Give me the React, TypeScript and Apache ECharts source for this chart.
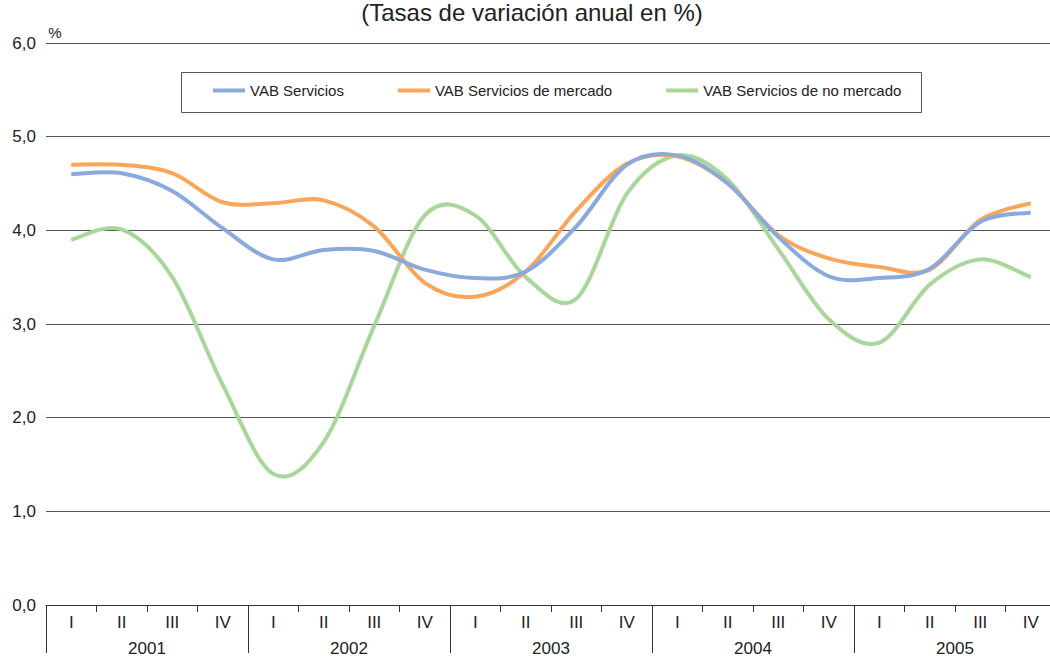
import React, { useEffect, useRef } from "react";
import * as echarts from "echarts";

const quarters = ["I", "II", "III", "IV", "I", "II", "III", "IV", "I", "II", "III", "IV", "I", "II", "III", "IV", "I", "II", "III", "IV"];
const years = ["2001", "2002", "2003", "2004", "2005"];
const yTicks = [0, 1, 2, 3, 4, 5, 6];

const vabServicios = [4.6, 4.61, 4.42, 4.02, 3.69, 3.79, 3.78, 3.58, 3.49, 3.56, 4.04, 4.7, 4.8, 4.5, 3.93, 3.51, 3.49, 3.59, 4.09, 4.19];
const vabMercado = [4.7, 4.7, 4.61, 4.3, 4.29, 4.32, 4.04, 3.44, 3.29, 3.56, 4.21, 4.71, 4.79, 4.5, 3.95, 3.7, 3.61, 3.58, 4.11, 4.29];
const vabNoMercado = [3.9, 4.01, 3.5, 2.35, 1.4, 1.74, 2.98, 4.16, 4.16, 3.5, 3.27, 4.39, 4.8, 4.54, 3.8, 3.05, 2.8, 3.42, 3.69, 3.5];

const seriesNames = ["VAB Servicios", "VAB Servicios de mercado", "VAB Servicios de no mercado"];
const seriesColors = ["#8aa9dc", "#f9a65a", "#a9d69a"];
const FONT = "Liberation Sans, Arial, sans-serif";

// Catmull-Rom smoothed path through the points (pixel coordinates from the axes)
function smoothPath(pts: number[][]): string {
  if (!pts.length) return "";
  let d = `M${pts[0][0]},${pts[0][1]}`;
  for (let i = 0; i < pts.length - 1; i++) {
    const p0 = pts[i - 1] || pts[i];
    const p1 = pts[i];
    const p2 = pts[i + 1];
    const p3 = pts[i + 2] || pts[i + 1];
    const c1x = p1[0] + (p2[0] - p0[0]) / 6;
    const c1y = p1[1] + (p2[1] - p0[1]) / 6;
    const c2x = p2[0] - (p3[0] - p1[0]) / 6;
    const c2y = p2[1] - (p3[1] - p1[1]) / 6;
    d += ` C${c1x},${c1y} ${c2x},${c2y} ${p2[0]},${p2[1]}`;
  }
  return d;
}

export default function App() {
  const ref = useRef<HTMLDivElement>(null);
  useEffect(() => {
    if (!ref.current) return;
    const chart = echarts.init(ref.current, undefined, { renderer: "svg" });
    const data = [vabServicios, vabMercado, vabNoMercado];
    chart.setOption({
      animation: false,
      textStyle: { fontFamily: FONT },
      grid: { left: 46, right: 0, top: 43, bottom: 52 },
      legend: {
        left: 213,
        top: 83,
        padding: 0,
        itemGap: 54,
        itemWidth: 32,
        itemHeight: 4,
        icon: "rect",
        textStyle: { fontSize: 15, color: "#222", fontFamily: FONT },
        data: seriesNames,
      },
      graphic: [
        {
          type: "rect",
          shape: { x: 181.5, y: 72.5, width: 740, height: 40 },
          style: { fill: "none", stroke: "#555", lineWidth: 1 },
          z: 100,
        },
        {
          type: "text",
          x: 532,
          y: 12,
          style: {
            text: "(Tasas de variación anual en %)",
            fontSize: 24,
            fontFamily: FONT,
            fill: "#222",
            textAlign: "center",
            textVerticalAlign: "middle",
          },
        },
        {
          type: "text",
          x: 55,
          y: 32,
          style: {
            text: "%",
            fontSize: 15,
            fontFamily: FONT,
            fill: "#222",
            textAlign: "center",
            textVerticalAlign: "middle",
          },
        },
      ],
      xAxis: [
        {
          type: "category",
          data: quarters,
          boundaryGap: true,
          axisLine: { lineStyle: { color: "#333", width: 1 } },
          axisTick: { show: true, interval: 0, length: 7, lineStyle: { color: "#333" } },
          axisLabel: { interval: 0, margin: 9, fontSize: 17, color: "#222", fontFamily: FONT },
          splitLine: { show: false },
        },
        {
          type: "category",
          data: years,
          position: "bottom",
          boundaryGap: true,
          axisLine: { show: false },
          axisTick: { show: true, interval: 0, length: 48, lineStyle: { color: "#333" } },
          axisLabel: { interval: 0, margin: 35, fontSize: 17, color: "#222", fontFamily: FONT },
          splitLine: { show: false },
        },
      ],
      yAxis: {
        type: "value",
        min: yTicks[0],
        max: yTicks[yTicks.length - 1],
        interval: 1,
        axisLine: { show: false },
        axisTick: { show: false },
        axisLabel: {
          margin: 10,
          fontSize: 17,
          color: "#222",
          fontFamily: FONT,
          formatter: (v: number) => v.toFixed(1).replace(".", ","),
        },
        splitLine: { lineStyle: { color: "#555", width: 1 } },
      },
      series: seriesNames.map((name, s) => ({
        name,
        type: "custom",
        xAxisIndex: 0,
        yAxisIndex: 0,
        data: data[s].map((v, i) => [i, v]),
        encode: { x: 0, y: 1 },
        itemStyle: { color: seriesColors[s] },
        z: 3 - s,
        renderItem: (params: any, api: any) => {
          if (params.dataIndex !== 0) return null;
          const pts = data[s].map((v, i) => api.coord([i, v]));
          return {
            type: "path",
            shape: { pathData: smoothPath(pts) },
            style: { fill: "none", stroke: seriesColors[s], lineWidth: 4, lineJoin: "round", lineCap: "butt" },
            silent: true,
          };
        },
      })),
    });
    return () => chart.dispose();
  }, []);
  return (
    <div style={{ position: "absolute", left: 0, top: 0, width: 1050, height: 657, overflow: "hidden", background: "#fff" }}>
      <div ref={ref} style={{ width: 1056, height: 657 }} />
    </div>
  );
}
